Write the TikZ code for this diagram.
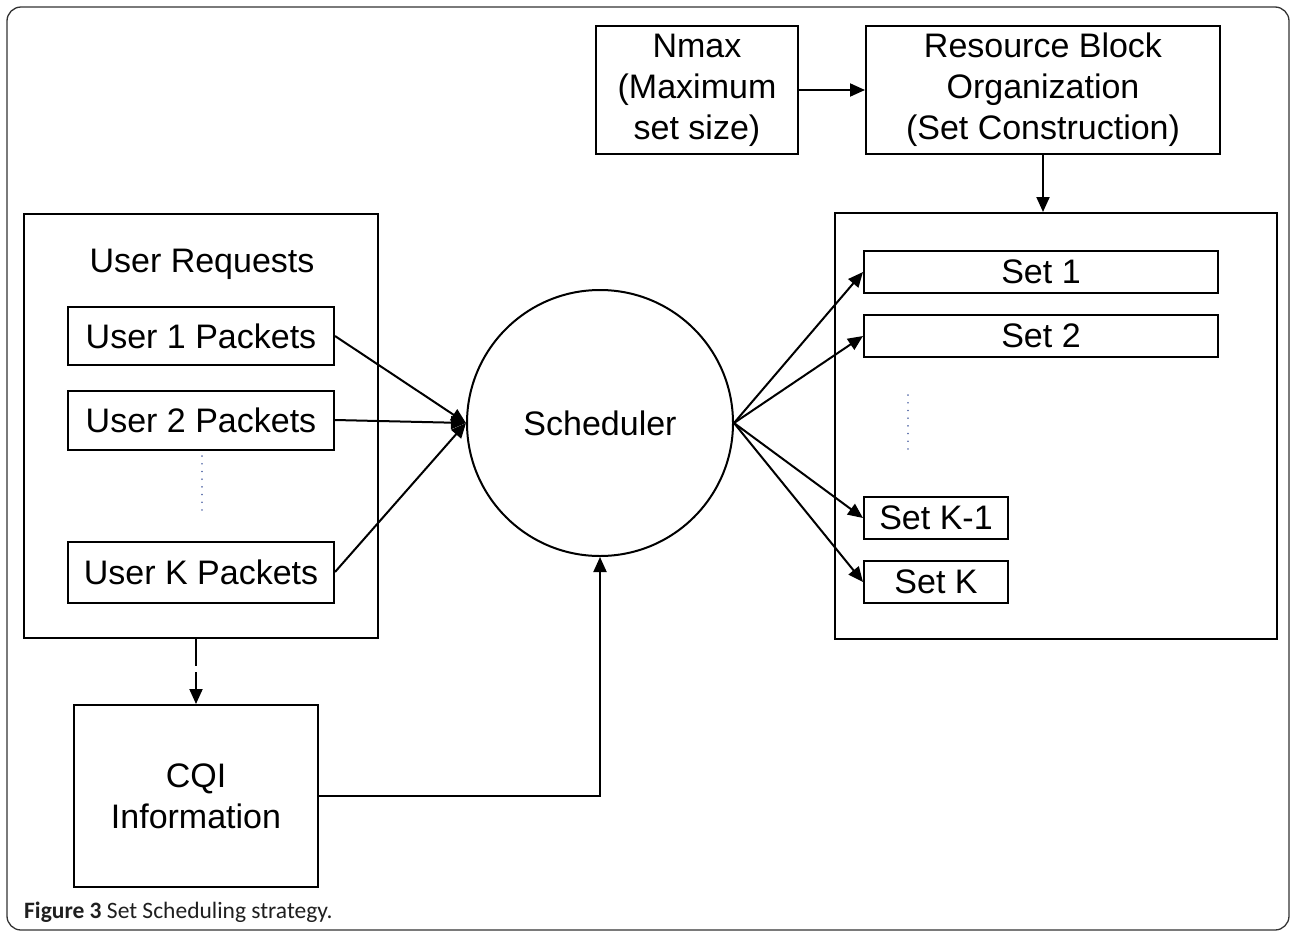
\documentclass[tikz,border=0pt]{standalone}
\usepackage{fontspec}
\setmainfont{Liberation Sans}
\newfontfamily\capfont{Carlito}
\usetikzlibrary{arrows.meta}
\definecolor{dotblue}{RGB}{90,110,170}
\begin{document}
\begin{tikzpicture}[x=1pt,y=-1pt,
  box/.style={draw=black,line width=2pt,inner sep=0pt,align=center,font=\fontsize{34}{41}\selectfont},
  conn/.style={line width=2pt,-{Triangle[length=15pt,width=13pt]}},
  dots/.style={draw=dotblue,line width=1.6pt,line cap=round,dash pattern=on 0.1pt off 7.6pt}]
\useasboundingbox (0,0) rectangle (1290,932);
\draw[line width=1.3pt,draw=black!80,rounded corners=14pt] (7,7) rectangle (1289,930);
% top boxes
\node[box,minimum width=202pt,minimum height=128pt] (nmax) at (697,90) {Nmax\\(Maximum\\set size)};
\node[box,minimum width=354pt,minimum height=128pt] (rbo) at (1043,90) {Resource Block\\Organization\\(Set Construction)};
% right big box
\node[draw,line width=2pt,minimum width=442pt,minimum height=426pt,inner sep=0pt] (right) at (1056,426) {};
\node[box,minimum width=354pt,minimum height=42pt] (s1) at (1041,272) {Set 1};
\node[box,minimum width=354pt,minimum height=42pt] (s2) at (1041,336) {Set 2};
\node[box,minimum width=144pt,minimum height=42pt] (sk1) at (936,518) {Set K-1};
\node[box,minimum width=144pt,minimum height=42pt] (sk) at (936,582) {Set K};
\coordinate (rd1) at (908,395);
\coordinate (rd2) at (908,452);
\draw[dots] (rd1) -- (rd2);
% left big box
\node[draw,line width=2pt,minimum width=354pt,minimum height=424pt,inner sep=0pt] (left) at (201,426) {};
\node[font=\fontsize{34}{41}\selectfont,inner sep=0pt] (ureq) at (202,264) {User Requests};
\node[box,minimum width=266pt,minimum height=58pt] (u1) at (201,336) {User 1 Packets};
\node[box,minimum width=266pt,minimum height=59pt] (u2) at (201,420) {User 2 Packets};
\node[box,minimum width=266pt,minimum height=61pt] (uk) at (201,572) {User K Packets};
\coordinate (ld1) at (202,456);
\coordinate (ld2) at (202,514);
\draw[dots] (ld1) -- (ld2);
% scheduler
\node[draw,circle,line width=2pt,minimum size=266pt,inner sep=0pt,font=\fontsize{34}{41}\selectfont] (sched) at (600,423) {Scheduler};
% CQI
\node[box,minimum width=244pt,minimum height=182pt] (cqi) at (196,796) {CQI\\Information};
% connectors
\draw[conn] (nmax.east) -- (rbo.west);
\draw[conn] (rbo.south) -- (rbo.south |- right.north);
\draw[conn] (u1.east) -- (sched.west);
\draw[conn] (u2.east) -- (sched.west);
\draw[conn] (uk.east) -- (sched.west);
\draw[conn] (sched.east) -- (s1.west);
\draw[conn] (sched.east) -- (s2.west);
\draw[conn] (sched.east) -- (sk1.west);
\draw[conn] (sched.east) -- (sk.west);
\draw[conn,dash pattern=on 27pt off 6pt] (left.south -| cqi.north) -- (cqi.north);
\draw[conn] (cqi.east) -| (sched.south);
% caption
\node[anchor=base west,inner sep=0pt,text=black!88,font=\capfont\fontsize{23.5}{26}\selectfont] (cap) at (24,918) {\textbf{Figure 3} Set Scheduling strategy.};
\end{tikzpicture}
\end{document}
